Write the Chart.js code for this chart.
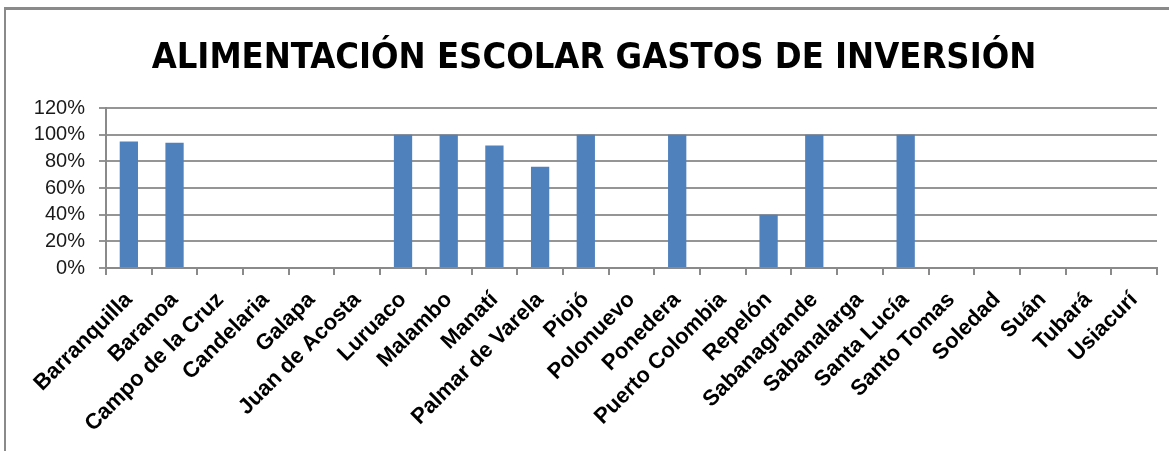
<!DOCTYPE html>
<html>
<head>
<meta charset="utf-8">
<script src="https://cdn.jsdelivr.net/npm/chart.js@4.4.1/dist/chart.umd.min.js"></script>
<style>
  html, body { margin: 0; padding: 0; background: #ffffff; overflow: hidden; }
  #frame { position: absolute; left: 4px; top: 7px; width: 1200px; height: 480px;
           border-left: 2px solid #8a8a8a; border-top: 3px solid #8a8a8a; }
  #wrap { position: absolute; left: 0; top: 0; width: 1169px; height: 451px; }
</style>
</head>
<body>
<div id="frame"></div>
<div id="wrap"><canvas id="c" width="1169" height="451"></canvas></div>
<script>
const chartTitle = "ALIMENTACIÓN ESCOLAR GASTOS DE INVERSIÓN";
const categories = ["Barranquilla", "Baranoa", "Campo de la Cruz", "Candelaria", "Galapa",
  "Juan de Acosta", "Luruaco", "Malambo", "Manatí", "Palmar de Varela", "Piojó",
  "Polonuevo", "Ponedera", "Puerto Colombia", "Repelón", "Sabanagrande", "Sabanalarga",
  "Santa Lucía", "Santo Tomas", "Soledad", "Suán", "Tubará", "Usiacurí"];
const values = [0.95, 0.94, 0, 0, 0, 0, 1.00, 1.00, 0.92, 0.76, 1.00, 0, 1.00, 0, 0.40,
  1.00, 0, 1.00, 0, 0, 0, 0, 0];
const yTicks = [0, 0.2, 0.4, 0.6, 0.8, 1.0, 1.2];

new Chart(document.getElementById('c'), {
  type: 'bar',
  data: {
    labels: categories,
    datasets: [{
      data: values,
      backgroundColor: '#4F81BD',
      borderWidth: 0,
      barPercentage: 0.4,
      categoryPercentage: 1.0
    }]
  },
  options: {
    responsive: false,
    animation: false,
    devicePixelRatio: 1,
    layout: { padding: { left: 31, right: 12, top: 0, bottom: 0 } },
    plugins: {
      legend: { display: false },
      tooltip: { enabled: false },
      title: {
        display: true,
        text: chartTitle,
        color: '#000000',
        font: { family: '"DejaVu Sans Condensed", "DejaVu Sans", sans-serif', size: 36, weight: 'bold' },
        padding: { top: 37, bottom: 28 },
        lineHeight: 1.2
      }
    },
    scales: {
      x: {
        type: 'category',
        offset: true,
        grid: { display: true, offset: true, drawOnChartArea: false, drawTicks: true,
                tickLength: 7, color: '#8a8a8a', lineWidth: 2 },
        border: { display: true, color: '#8a8a8a', width: 2 },
        ticks: {
          autoSkip: false, maxRotation: 45, minRotation: 45, padding: 12,
          color: '#000000',
          font: { family: '"Liberation Sans", Arial, sans-serif', size: 22, weight: 'bold' }
        },
        afterFit: (s) => { s.height = 451 - 268; }
      },
      y: {
        min: 0, max: 1.2,
        afterBuildTicks: (s) => { s.ticks = yTicks.map(v => ({ value: v })); },
        grid: { color: '#959595', lineWidth: 2, drawTicks: true, tickLength: 7 },
        border: { display: true, color: '#8a8a8a', width: 2 },
        ticks: {
          autoSkip: false,
          padding: 14,
          color: '#1a1a1a',
          font: { family: '"Liberation Sans", Arial, sans-serif', size: 20 },
          callback: (v) => Math.round(v * 100) + '%'
        },
        afterFit: (s) => { s.width = 75; }
      }
    }
  }
});
</script>
</body>
</html>
